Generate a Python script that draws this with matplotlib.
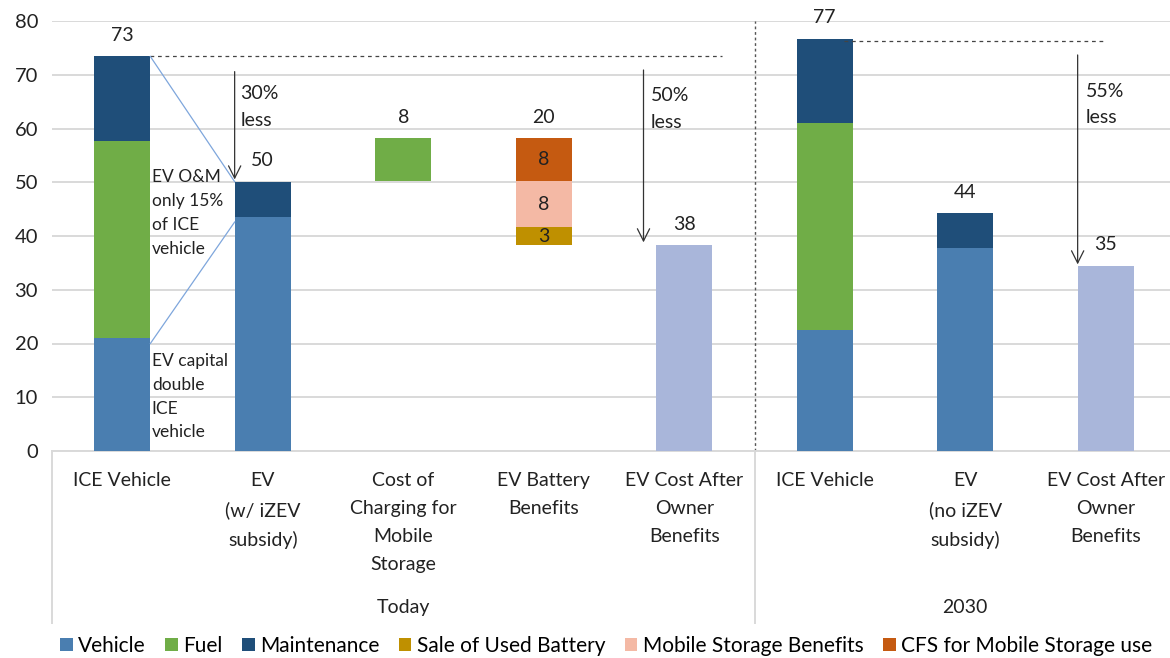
import matplotlib
matplotlib.use("Agg")
import matplotlib.pyplot as plt
import matplotlib.transforms as mtransforms
import numpy as np

plt.rcParams['font.family'] = ['Lato', 'DejaVu Sans']

categories = ["ICE Vehicle", "EV\n(w/ iZEV\nsubsidy)", "Cost of\nCharging for\nMobile\nStorage",
              "EV Battery\nBenefits", "EV Cost After\nOwner\nBenefits",
              "ICE Vehicle", "EV\n(no iZEV\nsubsidy)", "EV Cost After\nOwner\nBenefits"]
groups = ["Today", "2030"]

# invisible base for the floating bars
base = [0, 0, 50.2, 38.3, 0, 0, 0, 0]
vehicle = [21.1, 43.6, 0, 0, 0, 22.6, 37.8, 0]
fuel = [36.6, 0, 8.0, 0, 0, 38.4, 0, 0]
maintenance = [15.7, 6.5, 0, 0, 0, 15.7, 6.5, 0]
battery_sale = [0, 0, 0, 3.4, 0, 0, 0, 0]
storage_benefits = [0, 0, 0, 8.5, 0, 0, 0, 0]
cfs_storage = [0, 0, 0, 8.0, 0, 0, 0, 0]
after_benefits = [0, 0, 0, 0, 38.3, 0, 0, 34.5]

total_labels = ["73", "50", "8", "20", "38", "77", "44", "35"]
inner_labels = ["3", "8", "8"]

series = [
    ("Vehicle", vehicle, "#4a7eb0"),
    ("Fuel", fuel, "#70ad47"),
    ("Maintenance", maintenance, "#1f4e79"),
    ("Sale of Used Battery", battery_sale, "#bf9000"),
    ("Mobile Storage Benefits", storage_benefits, "#f4b9a5"),
    ("CFS for Mobile Storage use", cfs_storage, "#c55a11"),
    (None, after_benefits, "#a9b6da"),
]

fig = plt.figure(figsize=(11.7, 6.58), dpi=100)
ax = fig.add_axes([52 / 1170, 1 - 451 / 658, 1124 / 1170, 430 / 658])

x = np.arange(len(categories))
bottom = np.array(base, dtype=float)
width = 0.4
for name, vals, col in series:
    vals = np.array(vals, dtype=float)
    ax.bar(x, vals, width, bottom=bottom, color=col, label=name if name else "_nolegend_", zorder=3)
    bottom = bottom + vals

# totals above bars
for xi, top, lab in zip(x, bottom, total_labels):
    ax.annotate(lab, (xi, top), xytext=(0, 15), textcoords="offset points",
                ha="center", va="center", fontsize=14, color="#222222")

# labels inside the battery benefits bar
b = base[3]
for vals, lab in zip([battery_sale, storage_benefits, cfs_storage], inner_labels):
    ax.text(3, b + vals[3] / 2, lab, ha="center", va="center", fontsize=14, color="#222222", zorder=4)
    b += vals[3]

ax.set_xlim(-0.5, 7.5)
ax.set_ylim(0, 80)
ax.set_yticks(range(0, 81, 10))
ax.yaxis.grid(True, color="#d9d9d9", lw=1.4, zorder=0)
ax.tick_params(axis="y", length=0, pad=10, labelsize=14.5, labelcolor="#222222")
ax.set_xticks(x)
ax.set_xticklabels(categories, fontsize=14, color="#222222")
for lbl in ax.get_xticklabels():
    lbl.set_linespacing(1.8)
ax.tick_params(axis="x", length=0, pad=15)
for s in ["top", "right", "left"]:
    ax.spines[s].set_visible(False)
ax.spines["bottom"].set_color("#d9d9d9")
ax.spines["bottom"].set_linewidth(1.4)

# group labels and separators below the axis
trans = mtransforms.blended_transform_factory(ax.transData, ax.transAxes)
ax.text(2, -0.365, groups[0], transform=trans, ha="center", va="center", fontsize=14, color="#222222")
ax.text(6, -0.365, groups[1], transform=trans, ha="center", va="center", fontsize=14, color="#222222")
for xs in [-0.5, 4.5]:
    ax.plot([xs, xs], [0, -0.4], transform=trans, color="#d9d9d9", lw=1.4, clip_on=False)
ax.plot([4.5, 4.5], [0, 1], transform=trans, color="#555555", lw=1, ls=(0, (2, 2)), clip_on=False)

# dashed reference lines
ax.plot([0.2, 4.27], [73.4, 73.4], color="#444444", lw=0.9, ls=(0, (3, 3)), zorder=4)
ax.plot([5.14, 7.0], [76.3, 76.3], color="#444444", lw=0.9, ls=(0, (3, 3)), zorder=4)

# thin connector lines
ax.plot([0.2, 0.8], [73.4, 50.1], color="#7ea6dc", lw=0.9, zorder=4)
ax.plot([0.2, 0.8], [20.0, 42.6], color="#7ea6dc", lw=0.9, zorder=4)

# reduction arrows
arrow = dict(arrowstyle="->", color="#333333", lw=0.9, mutation_scale=22)
ax.annotate("", xy=(0.8, 50.0), xytext=(0.8, 71.1), arrowprops=arrow, zorder=5)
ax.annotate("", xy=(3.71, 38.3), xytext=(3.71, 71.4), arrowprops=arrow, zorder=5)
ax.annotate("", xy=(6.80, 34.2), xytext=(6.80, 74.2), arrowprops=arrow, zorder=5)
ax.text(0.84, 64.0, "30%\nless", ha="left", va="center", fontsize=14, linespacing=1.72, color="#222222")
ax.text(3.76, 63.7, "50%\nless", ha="left", va="center", fontsize=14, linespacing=1.72, color="#222222")
ax.text(6.86, 64.4, "55%\nless", ha="left", va="center", fontsize=14, linespacing=1.65, color="#222222")

ax.text(0.21, 44.3, "EV O&M\nonly 15%\nof ICE\nvehicle", ha="left", va="center",
        fontsize=12.5, linespacing=1.6, color="#222222", zorder=5)
ax.text(0.21, 10.1, "EV capital\ndouble\nICE\nvehicle", ha="left", va="center",
        fontsize=12.5, linespacing=1.6, color="#222222", zorder=5)

fig.legend(loc="center", bbox_to_anchor=(0.518, 1 - 646 / 658), ncol=6, frameon=False,
           handlelength=0.6, handleheight=0.6, handletextpad=0.25,
           columnspacing=0.95, prop={"size": 15})

fig.savefig("out.png", dpi=100)
